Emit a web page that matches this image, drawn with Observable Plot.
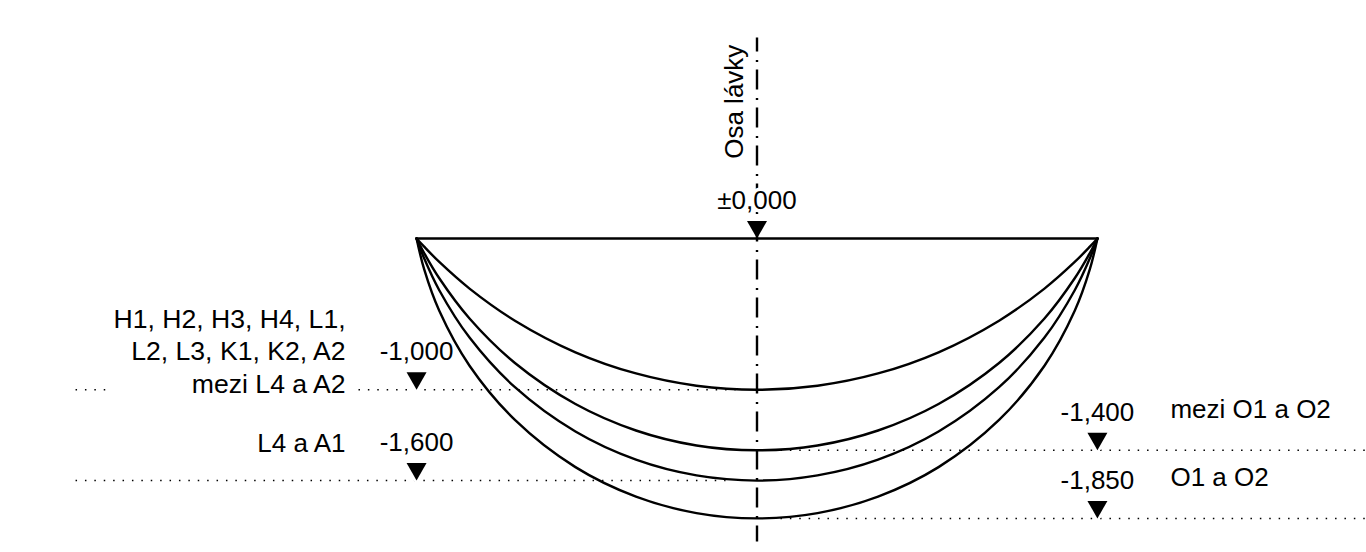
<!DOCTYPE html>
<html>
<head>
<meta charset="utf-8">
<script src="https://cdn.jsdelivr.net/npm/d3@7"></script>
<script src="https://cdn.jsdelivr.net/npm/@observablehq/plot@0.6"></script>
<style>html,body{margin:0;padding:0;background:#fff}svg{display:block}</style>
</head>
<body>
<div id="chart"></div>
<script>
// Distance from the footbridge axis (mm), and sag of each cable curve below the deck (mm)
const stations = [-2250,-2200,-2100,-1900,-1600,-1200,-800,-400,0,400,800,1200,1600,1900,2100,2200,2250];
const sag1000 = [0,54,155,331,543,752,892,973,1000,973,892,752,543,331,155,54,0];
const sag1400 = [0,96,263,529,823,1094,1269,1368,1400,1368,1269,1094,823,529,263,96,0];
const sag1600 = [0,131,342,655,983,1276,1462,1566,1600,1566,1462,1276,983,655,342,131,0];
const sag1850 = [0,203,478,841,1199,1511,1706,1815,1850,1815,1706,1511,1199,841,478,203,0];
const sags = [sag1000, sag1400, sag1600, sag1850];

const deckX = [-2250, 2250];
const axisY = [1328, -2003];

// Level markers
const markerX = [0, -2250, -2250, 2250, 2250];
const markerLevel = [0, -1000, -1600, -1400, -1850];
const markerLabel = ["±0,000", "-1,000", "-1,600", "-1,400", "-1,850"];

// Dotted level lines
const dotLevel = [-1000, -1000, -1600, -1400, -1850];
const dotFrom = [-4504, -2634, -4504, 155, 155];
const dotTo = [-4260, -142, -208, 4030, 4030];

// Member captions
const captionUpper = "H1, H2, H3, H4, L1,\nL2, L3, K1, K2, A2\nmezi L4 a A2";
const captionLower = "L4 a A1";
const rightCaptions = ["mezi O1 a O2", "O1 a O2"];
const rightCaptionLevel = [-1400, -1850];
const axisTitle = "Osa lávky";

const W = 1366, H = 552, k = 0.1513, cx = 756.5, cy = 238;
const FONT = "'Liberation Sans', Arial, sans-serif";
const FS = 26;

const curveRows = sags.flatMap((s, c) => s.map((d, i) => ({c, x: stations[i], y: -d})));
const markers = markerX.map((x, i) => ({x, y: markerLevel[i], label: markerLabel[i]}));
const dots = dotLevel.map((y, i) => ({y, x1: dotFrom[i], x2: dotTo[i]}));
const tip = {draw(ctx){ ctx.moveTo(0,0); ctx.lineTo(-10,-17.5); ctx.lineTo(10,-17.5); ctx.closePath(); }};

const chart = Plot.plot({
  width: W, height: H,
  marginLeft: 0, marginRight: 0, marginTop: 0, marginBottom: 0,
  style: {background: "#fff", fontFamily: FONT, fontSize: FS + "px", overflow: "hidden"},
  x: {axis: null, domain: [-cx / k, (W - cx) / k], range: [0, W]},
  y: {axis: null, domain: [(cy - H) / k, cy / k], range: [H, 0]},
  marks: [
    Plot.link(dots, {x1: "x1", x2: "x2", y1: "y", y2: "y", stroke: "#000", strokeWidth: 1.5, strokeDasharray: "1.5 7.9"}),
    Plot.dot(markers.filter(d => d.y !== 0), {x: "x", y: "y", symbol: tip, r: 5, fill: "#fff", stroke: "#fff", strokeWidth: 5}),
    Plot.line(curveRows, {x: "x", y: "y", z: "c", curve: "catmull-rom", stroke: "#000", strokeWidth: 2.4}),
    Plot.line(deckX.map(x => ({x, y: 0})), {x: "x", y: "y", stroke: "#000", strokeWidth: 2.6}),
    Plot.link([{y1: axisY[0], y2: axisY[1]}], {x: () => 0, y1: "y1", y2: "y2", stroke: "#000", strokeWidth: 2.4, strokeDasharray: "20 8.5 2 7.5", strokeDashoffset: 6}),
    Plot.dot(markers, {x: "x", y: "y", symbol: tip, r: 5, fill: "#000"}),
    Plot.text(markers.filter(d => d.y === 0), {x: "x", y: "y", text: "label", dy: -38, fill: "#000", stroke: "#fff", strokeWidth: 7, fontSize: FS, textAnchor: "middle"}),
    Plot.text(markers.filter(d => d.y !== 0), {x: "x", y: "y", text: "label", dy: -38, fill: "#000", fontSize: FS, textAnchor: "middle"}),
    Plot.text([captionUpper], {x: () => -2250, y: () => -1000, text: d => d, dx: -71, dy: 3, lineAnchor: "bottom", lineHeight: 1.22, textAnchor: "end", fill: "#000", fontSize: 26.6}),
    Plot.text([captionLower], {x: () => -2250, y: () => -1600, text: d => d, dx: -71, dy: -29, lineAnchor: "bottom", textAnchor: "end", fill: "#000", fontSize: FS}),
    Plot.text(rightCaptions, {x: () => 2250, y: (d, i) => rightCaptionLevel[i], text: d => d, dx: 73, dy: -32, lineAnchor: "bottom", textAnchor: "start", fill: "#000", fontSize: FS}),
    Plot.text([axisTitle], {x: () => 0, y: () => 904, text: d => d, rotate: -90, dx: -22, fill: "#000", fontSize: FS, textAnchor: "middle"})
  ]
});
document.getElementById("chart").append(chart);
</script>
</body>
</html>
